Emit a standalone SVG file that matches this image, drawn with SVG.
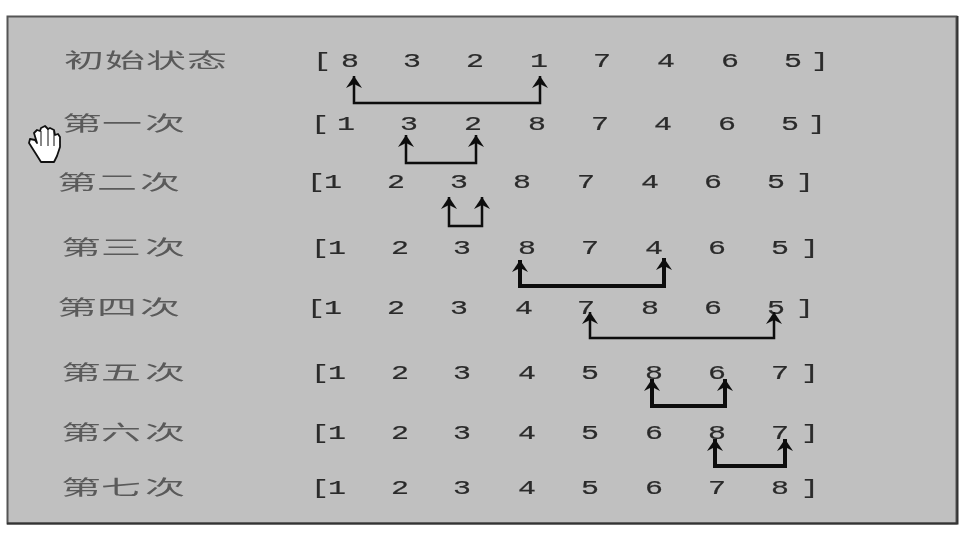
<svg xmlns="http://www.w3.org/2000/svg" width="968" height="536" viewBox="0 0 968 536">
<style>
.lab{font-family:"Noto Sans CJK SC","Noto Sans",sans-serif;font-size:20px;fill:#5a5a5a;text-anchor:middle}
.num{font-family:"Liberation Mono","DejaVu Sans Mono",monospace;font-size:20px;fill:#2a2a2a;text-anchor:middle;stroke:#2a2a2a;stroke-width:.2}
.c{fill:none;stroke:#111;marker-start:url(#ah);marker-end:url(#ah)}
</style>
<defs>
<filter id="soft" x="-5%" y="-5%" width="110%" height="110%"><feGaussianBlur stdDeviation="0.55"/></filter>
<marker id="ah" markerUnits="userSpaceOnUse" markerWidth="18" markerHeight="20" refX="13" refY="10" orient="auto-start-reverse"><path d="M1 2 L13 10 L1 18 L5 10 Z" fill="#111"/></marker>
</defs>
<rect width="968" height="536" fill="#fff"/>
<rect id="frame" x="7.5" y="16.5" width="949" height="507" fill="#c0c0c0" stroke="#555" stroke-width="2"/>
<path d="M7 523.5H957.5V16" fill="none" stroke="#333" stroke-width="2"/>
<g filter="url(#soft)">
<g id="row0"><text class="lab" transform="scale(2 1)" x="42 62.5 83 103.5" y="68">初始状态</text><text class="num" transform="scale(1.5 1)" x="214.7 225 233.3 255 274.7 295 316.7 340 359.3 380 401.3 420 444 465 486.7 505 528.7 540 546.7" y="67">[ 8 3 2 1 7 4 6 5 ]</text></g>
<g id="row1"><text class="lab" transform="scale(2 1)" x="41 61 82.5" y="131">第一次</text><text class="num" transform="scale(1.5 1)" x="213.3 222 230.7 250 272.7 295 315.3 335 358 380 400 420 442 465 484.7 505 526.7 536 544.7" y="130">[ 1 3 2 8 7 4 6 5 ]</text></g>
<g id="row2"><text class="lab" transform="scale(2 1)" x="38.5 58.5 80" y="190">第二次</text><text class="num" transform="scale(1.5 1)" x="210.7 222 245 264 285 306 330 348 370 390.7 410 433.3 455 475.3 495 517.3 527 536.7" y="188">[1 2 3 8 7 4 6 5 ]</text></g>
<g id="row3"><text class="lab" transform="scale(2 1)" x="40.5 60.5 82.5" y="255">第三次</text><text class="num" transform="scale(1.5 1)" x="213.3 224.7 245 266.7 290 308 330 351.3 370 393.3 415 436 455 478 500 520 530 540" y="254">[1 2 3 8 7 4 6 5 ]</text></g>
<g id="row4"><text class="lab" transform="scale(2 1)" x="38.5 58.5 80" y="315">第四次</text><text class="num" transform="scale(1.5 1)" x="210.7 222 245 264 285 306 330 349.3 370 390.7 410 433.3 455 475.3 495 517.3 527 536.7" y="314">[1 2 3 4 7 8 6 5 ]</text></g>
<g id="row5"><text class="lab" transform="scale(2 1)" x="40.5 60.5 82.5" y="380">第五次</text><text class="num" transform="scale(1.5 1)" x="213.3 224.7 245 266.7 290 308 330 351.3 370 393.3 415 436 455 478 500 520 530 540" y="379">[1 2 3 4 5 8 6 7 ]</text></g>
<g id="row6"><text class="lab" transform="scale(2 1)" x="40.5 60.5 82.5" y="440">第六次</text><text class="num" transform="scale(1.5 1)" x="213.3 224.7 245 266.7 290 308 330 351.3 370 393.3 415 436 455 478 500 520 530 540" y="439">[1 2 3 4 5 6 8 7 ]</text></g>
<g id="row7"><text class="lab" transform="scale(2 1)" x="40.5 60.5 82.5" y="495">第七次</text><text class="num" transform="scale(1.5 1)" x="213.3 224.7 245 266.7 290 308 330 351.3 370 393.3 415 436 455 478 500 520 530 540" y="494">[1 2 3 4 5 6 7 8 ]</text></g>
<g id="connectors">
<path class="c" stroke-width="2.5" d="M354 76V103H540V76"/>
<path class="c" stroke-width="2.5" d="M406 135V163H476V135"/>
<path class="c" stroke-width="2.5" d="M449 197V226H482V197"/>
<path class="c" stroke-width="4" d="M520 260V286H664V258"/>
<path class="c" stroke-width="2.5" d="M590 312V338H774V312"/>
<path class="c" stroke-width="4" d="M652 379V406H725V379"/>
<path class="c" stroke-width="4" d="M715 439V466H785V439"/>
</g>
</g>
<g id="hand"><path d="M41 162 L36 154 L29 143 L30 139 L35 140 L37 143 L34 133 L37 130 L40 131 L41 128 L45 126 L48 129 L50 128 L54 130 L55 135 L58 134 L60 137 L60 147 L57 156 L54 162 Z" fill="#fff" stroke="#111" stroke-width="1.8" stroke-linejoin="round"/><path d="M41 131V146M48 129V146M54 131V146" stroke="#111" stroke-width="1" fill="none"/></g>
</svg>
